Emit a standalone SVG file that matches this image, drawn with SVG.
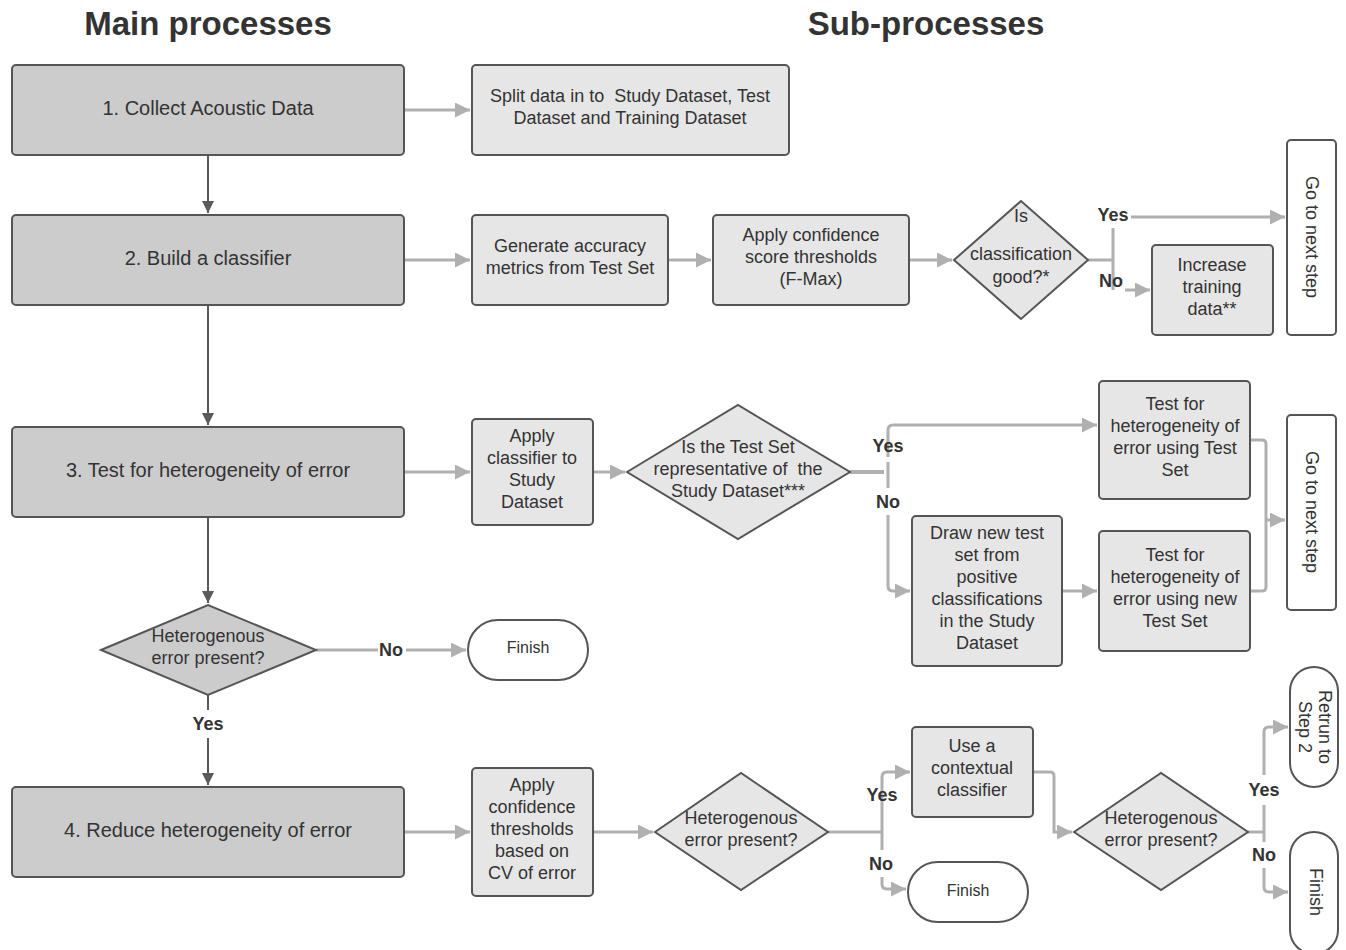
<svg xmlns="http://www.w3.org/2000/svg" width="1346" height="950" viewBox="0 0 1346 950">
<defs>
<style>
text{font-family:"Liberation Sans",Arial,sans-serif;fill:#333;text-anchor:middle}
.title{font-size:33px;font-weight:bold}
.mt{font-size:20px}
.st{font-size:18px}
.pre{white-space:pre}
.lb{font-size:18px;font-weight:bold}
.main{fill:#cccccc;stroke:#555;stroke-width:2}
.sub{fill:#e6e6e6;stroke:#555;stroke-width:2}
.term{fill:#fff;stroke:#555;stroke-width:2}
.dk{fill:none;stroke:#5a5a5a;stroke-width:2}
.lt{fill:none;stroke:#b0b0b0;stroke-width:3}
</style>
<marker id="ad" viewBox="0 0 10 10" refX="10" refY="5" markerWidth="6" markerHeight="6" markerUnits="strokeWidth" orient="auto"><path d="M0,0 L10,5 L0,10 z" fill="#5a5a5a"/></marker>
<marker id="al" viewBox="0 0 10 10" refX="10" refY="5" markerWidth="7" markerHeight="5" markerUnits="strokeWidth" orient="auto"><path d="M0,0 L10,5 L0,10 z" fill="#b0b0b0"/></marker>
</defs>
<rect width="1346" height="950" fill="#fff"/>
<text class="title" x="208" y="35">Main processes</text>
<text class="title" x="926" y="35">Sub-processes</text>

<g id="connectors">
<path class="dk" d="M208,155 V213" marker-end="url(#ad)"/>
<path class="dk" d="M208,305 V425" marker-end="url(#ad)"/>
<path class="dk" d="M208,517 V603" marker-end="url(#ad)"/>
<path class="dk" d="M208,695 V710 M208,738 V785" marker-end="url(#ad)"/>
<path class="lt" d="M404,110 H470" marker-end="url(#al)"/>
<path class="lt" d="M404,260 H470" marker-end="url(#al)"/>
<path class="lt" d="M404,472 H470" marker-end="url(#al)"/>
<path class="lt" d="M404,832 H470" marker-end="url(#al)"/>
<path class="lt" d="M316,650 H378 M406,650 H466" marker-end="url(#al)"/>
<path class="lt" d="M668,260 H711" marker-end="url(#al)"/>
<path class="lt" d="M909,260 H952" marker-end="url(#al)"/>
<path class="lt" d="M1088,260 H1112 M1113,228 V290"/>
<path class="lt" d="M1131,217 H1285" marker-end="url(#al)"/>
<path class="lt" d="M1125,290 H1150" marker-end="url(#al)"/>
<path class="lt" d="M593,472 H625" marker-end="url(#al)"/>
<path class="lt" style="stroke-width:4" d="M850,472 H884"/>
<path class="lt" d="M888,457 V430 Q888,425 893,425 H1097" marker-end="url(#al)"/>
<path class="lt" d="M888,472 V462 M888,472 V488"/>
<path class="lt" d="M888,515 V586 Q888,591 893,591 H910" marker-end="url(#al)"/>
<path class="lt" d="M1062,591 H1097" marker-end="url(#al)"/>
<path class="lt" d="M1250,440 H1262 Q1266,440 1266,444 V587 Q1266,591 1262,591 H1250"/>
<path class="lt" d="M1266,520 H1285" marker-end="url(#al)"/>
<path class="lt" d="M593,832 H653" marker-end="url(#al)"/>
<path class="lt" d="M828,832 H882 M882,808 V777 Q882,772 887,772 H910" marker-end="url(#al)"/>
<path class="lt" d="M882,832 V808 M882,832 V850"/>
<path class="lt" d="M882,877 V884 Q882,889 887,889 H906" marker-end="url(#al)"/>
<path class="lt" d="M1033,772 H1050 Q1054,772 1054,776 V832 H1072" marker-end="url(#al)"/>
<path class="lt" d="M1248,832 H1264 M1264,832 V805 M1264,775 V732 Q1264,727 1269,727 H1288" marker-end="url(#al)"/>
<path class="lt" d="M1264,832 V842"/>
<path class="lt" d="M1264,868 V887 Q1264,892 1269,892 H1288" marker-end="url(#al)"/>
<text class="lb" x="208" y="730">Yes</text>
<text class="lb" x="391" y="656">No</text>
<text class="lb" x="1113" y="221">Yes</text>
<text class="lb" x="1111" y="287">No</text>
<text class="lb" x="888" y="452">Yes</text>
<text class="lb" x="888" y="508">No</text>
<text class="lb" x="882" y="801">Yes</text>
<text class="lb" x="881" y="870">No</text>
<text class="lb" x="1264" y="796">Yes</text>
<text class="lb" x="1264" y="861">No</text>
</g>

<g id="m1"><rect class="main" x="12" y="65" width="392" height="90" rx="4"/><text class="mt" x="208" y="115">1. Collect Acoustic Data</text></g>
<g id="m2"><rect class="main" x="12" y="215" width="392" height="90" rx="4"/><text class="mt" x="208" y="265">2. Build a classifier</text></g>
<g id="m3"><rect class="main" x="12" y="427" width="392" height="90" rx="4"/><text class="mt" x="208" y="477">3. Test for heterogeneity of error</text></g>
<g id="m4"><rect class="main" x="12" y="787" width="392" height="90" rx="4"/><text class="mt" x="208" y="837">4. Reduce heterogeneity of error</text></g>
<g id="d1"><polygon class="main" points="101,650 208,605 316,650 208,695"/><text class="st" x="208" y="642">Heterogenous</text><text class="st" x="208" y="664">error present?</text></g>
<g id="f1"><rect class="term" x="468" y="620" width="120" height="60" rx="30"/><text class="st" style="font-size:16px" x="528" y="653">Finish</text></g>

<g id="s1"><rect class="sub" x="472" y="65" width="317" height="90" rx="4"/><text class="st pre" x="630" y="102">Split data in to  Study Dataset, Test</text><text class="st" x="630" y="124">Dataset and Training Dataset</text></g>
<g id="s2"><rect class="sub" x="472" y="215" width="196" height="90" rx="4"/><text class="st" x="570" y="252">Generate accuracy</text><text class="st" x="570" y="274">metrics from Test Set</text></g>
<g id="s3"><rect class="sub" x="713" y="215" width="196" height="90" rx="4"/><text class="st" x="811" y="241">Apply confidence</text><text class="st" x="811" y="263">score thresholds</text><text class="st" x="811" y="285">(F-Max)</text></g>
<g id="s4"><polygon class="sub" points="954,260 1021,201 1088,260 1021,319"/><text class="st" x="1021" y="222">Is</text><text class="st" x="1021" y="260">classification</text><text class="st" x="1021" y="283">good?*</text></g>
<g id="s5"><rect class="sub" x="1152" y="245" width="121" height="90" rx="4"/><text class="st" x="1212" y="271">Increase</text><text class="st" x="1212" y="293">training</text><text class="st" x="1212" y="315">data**</text></g>
<g id="g1"><rect class="term" x="1287" y="140" width="49" height="195" rx="4"/><text class="st" transform="translate(1312,237) rotate(90)" y="6">Go to next step</text></g>

<g id="s6"><rect class="sub" x="472" y="419" width="121" height="106" rx="4"/><text class="st" x="532" y="442">Apply</text><text class="st" x="532" y="464">classifier to</text><text class="st" x="532" y="486">Study</text><text class="st" x="532" y="508">Dataset</text></g>
<g id="s7"><polygon class="sub" points="627,472 738,405 850,472 738,539"/><text class="st" x="738" y="453">Is the Test Set</text><text class="st pre" x="738" y="475">representative of  the</text><text class="st" x="738" y="497">Study Dataset***</text></g>
<g id="s8"><rect class="sub" x="1099" y="381" width="151" height="118" rx="4"/><text class="st" x="1175" y="410">Test for</text><text class="st" x="1175" y="432">heterogeneity of</text><text class="st" x="1175" y="454">error using Test</text><text class="st" x="1175" y="476">Set</text></g>
<g id="s9"><rect class="sub" x="912" y="516" width="150" height="150" rx="4"/><text class="st" x="987" y="539">Draw new test</text><text class="st" x="987" y="561">set from</text><text class="st" x="987" y="583">positive</text><text class="st" x="987" y="605">classifications</text><text class="st" x="987" y="627">in the Study</text><text class="st" x="987" y="649">Dataset</text></g>
<g id="s10"><rect class="sub" x="1099" y="531" width="151" height="120" rx="4"/><text class="st" x="1175" y="561">Test for</text><text class="st" x="1175" y="583">heterogeneity of</text><text class="st" x="1175" y="605">error using new</text><text class="st" x="1175" y="627">Test Set</text></g>
<g id="g2"><rect class="term" x="1287" y="415" width="49" height="195" rx="4"/><text class="st" transform="translate(1312,512) rotate(90)" y="6">Go to next step</text></g>

<g id="s11"><rect class="sub" x="472" y="768" width="121" height="128" rx="4"/><text class="st" x="532" y="791">Apply</text><text class="st" x="532" y="813">confidence</text><text class="st" x="532" y="835">thresholds</text><text class="st" x="532" y="857">based on</text><text class="st" x="532" y="879">CV of error</text></g>
<g id="s12"><polygon class="sub" points="655,832 741,773 828,832 741,890"/><text class="st" x="741" y="824">Heterogenous</text><text class="st" x="741" y="846">error present?</text></g>
<g id="s13"><rect class="sub" x="912" y="727" width="121" height="90" rx="4"/><text class="st" x="972" y="752">Use a</text><text class="st" x="972" y="774">contextual</text><text class="st" x="972" y="796">classifier</text></g>
<g id="f2"><rect class="term" x="908" y="862" width="120" height="60" rx="30"/><text class="st" style="font-size:16px" x="968" y="896">Finish</text></g>
<g id="s14"><polygon class="sub" points="1074,832 1161,773 1248,832 1161,890"/><text class="st" x="1161" y="824">Heterogenous</text><text class="st" x="1161" y="846">error present?</text></g>
<g id="r1"><rect class="term" x="1290" y="667" width="48" height="120" rx="24"/><text class="st" transform="translate(1314,727) rotate(90)"><tspan x="0" y="-5">Retrun to</tspan><tspan x="0" y="15">Step 2</tspan></text></g>
<g id="f3"><rect class="term" x="1290" y="832" width="48" height="122" rx="24"/><text class="st" transform="translate(1316,892) rotate(90)" y="6">Finish</text></g>
</svg>
